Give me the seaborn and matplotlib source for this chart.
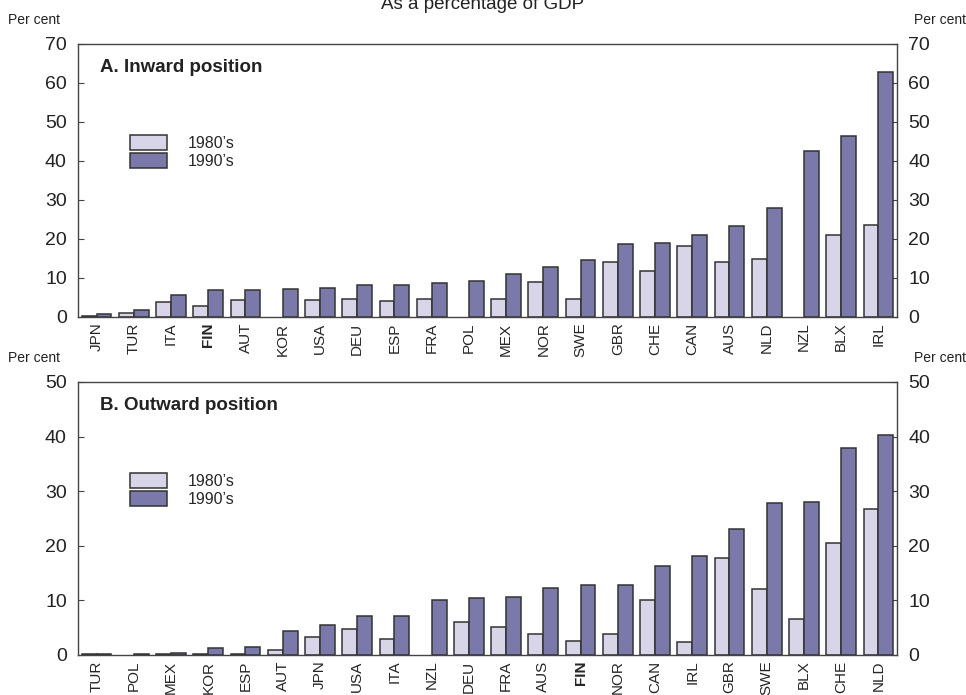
import numpy as np
import pandas as pd
import matplotlib
matplotlib.use("Agg")
import matplotlib.pyplot as plt
import seaborn as sns

# ---------- data ----------
inward_countries = ["JPN", "TUR", "ITA", "FIN", "AUT", "KOR", "USA", "DEU", "ESP", "FRA", "POL",
                    "MEX", "NOR", "SWE", "GBR", "CHE", "CAN", "AUS", "NLD", "NZL", "BLX", "IRL"]
inward_1980s = [0.3, 1.0, 3.9, 2.9, 4.3, np.nan, 4.3, 4.6, 4.1, 4.6, np.nan,
                4.5, 9.0, 4.5, 14.1, 11.7, 18.3, 14.2, 14.9, np.nan, 21.1, 23.7]
inward_1990s = [0.7, 1.9, 5.7, 6.8, 6.8, 7.1, 7.4, 8.3, 8.3, 8.7, 9.3,
                10.9, 12.9, 14.6, 18.6, 19.1, 20.9, 23.3, 27.9, 42.5, 46.5, 62.7]

outward_countries = ["TUR", "POL", "MEX", "KOR", "ESP", "AUT", "JPN", "USA", "ITA", "NZL", "DEU",
                     "FRA", "AUS", "FIN", "NOR", "CAN", "IRL", "GBR", "SWE", "BLX", "CHE", "NLD"]
outward_1980s = [0.1, np.nan, 0.2, 0.2, 0.2, 0.9, 3.2, 4.7, 3.0, np.nan, 6.1,
                 5.2, 3.8, 2.5, 3.9, 10.1, 2.3, 17.7, 12.1, 6.5, 20.5, 26.7]
outward_1990s = [0.2, 0.2, 0.3, 1.2, 1.5, 4.3, 5.5, 7.1, 7.1, 10.0, 10.5,
                 10.6, 12.3, 12.9, 12.9, 16.3, 18.2, 23.0, 27.9, 28.0, 37.9, 40.3]

decades = ["1980\u2019s", "1990\u2019s"]
colors = ["#d4d2ea", "#736fb3"]

sns.set_style("white")
plt.rcParams["font.family"] = ["Liberation Sans", "DejaVu Sans"]


def long_table(countries, v80, v90):
    df = pd.DataFrame({"country": countries, decades[0]: v80, decades[1]: v90})
    return df.melt(id_vars="country", var_name="decade", value_name="value")


def draw_panel(ax, countries, v80, v90, ymax, title):
    df = long_table(countries, v80, v90)
    sns.barplot(data=df, x="country", y="value", hue="decade", hue_order=decades,
                order=countries, palette=colors, errorbar=None, width=0.8,
                edgecolor="#333333", linewidth=1.1, ax=ax)
    ax.set_ylim(0, ymax)
    ax.set_xlim(-0.5, len(countries) - 0.5)
    ax.set_yticks(np.arange(0, ymax + 1, 10))
    ax.set_xlabel("")
    ax.set_ylabel("")
    for s in ["left", "right", "top", "bottom"]:
        ax.spines[s].set_visible(True)
        ax.spines[s].set_color("#444444")
        ax.spines[s].set_linewidth(1.0)
    ax.tick_params(axis="y", left=True, right=True, labelleft=True, labelright=True,
                   direction="in", length=4, labelsize=14, labelcolor="#222222",
                   color="#444444", pad=8)
    ax.tick_params(axis="x", length=0, labelsize=11, rotation=90, pad=4)
    for lbl in ax.get_xticklabels():
        if lbl.get_text() == "FIN":
            lbl.set_fontweight("bold")
    ax.text(0.027, 0.915, title, transform=ax.transAxes, fontsize=13.5,
            fontweight="bold", color="#222222", va="center")
    ax.legend(loc="upper left", bbox_to_anchor=(0.046, 0.72), frameon=False,
              fontsize=11.5, handlelength=2.3, handleheight=1.1, labelspacing=0.12,
              handletextpad=1.3)
    ax.text(-0.086, 1.087, "Per cent", transform=ax.transAxes, fontsize=10,
            color="#222222", ha="left", va="center")
    ax.text(1.084, 1.087, "Per cent", transform=ax.transAxes, fontsize=10,
            color="#222222", ha="right", va="center")


fig = plt.figure(figsize=(9.66, 6.95), dpi=100)
ax_a = fig.add_axes([0.0807, 0.5439, 0.8479, 0.3928])
ax_b = fig.add_axes([0.0807, 0.0576, 0.8479, 0.3928])

draw_panel(ax_a, inward_countries, inward_1980s, inward_1990s, 70, "A. Inward position")
draw_panel(ax_b, outward_countries, outward_1980s, outward_1990s, 50, "B. Outward position")

# the title sits partly above the top edge, as in the source image
fig.text(0.5, 0.987, "As a percentage of GDP", ha="center", va="baseline", fontsize=13.5,
         color="#222222")

fig.savefig("out.png", dpi=100)
